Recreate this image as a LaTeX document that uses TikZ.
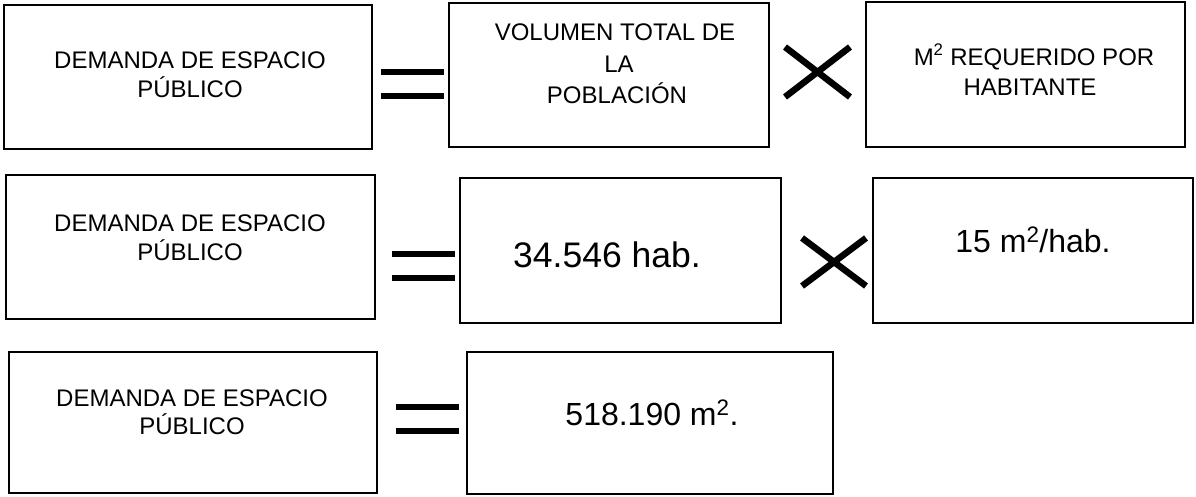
\documentclass[tikz,border=0pt]{standalone}
\usepackage{fontspec}
\setmainfont{Liberation Sans}
\begin{document}
\begin{tikzpicture}[x=1pt,y=-1pt,
  box/.style={draw=black, line width=2pt, rectangle, inner sep=0pt, outer sep=0pt},
  lbl/.style={inner sep=0pt, anchor=base, font=\fontsize{24}{30}\selectfont},
  big/.style={inner sep=0pt, anchor=base, font=\fontsize{32}{38}\selectfont},
  bigger/.style={inner sep=0pt, anchor=base, font=\fontsize{35.5}{42}\selectfont},
  bar/.style={line width=6pt},
  cross/.style={line width=6.5pt}]
\useasboundingbox (0,0) rectangle (1196,496);
% ---- row 1
\node[box, minimum width=368pt, minimum height=144pt] (A1) at (188,77) {};
\node[box, minimum width=320pt, minimum height=144pt] (B1) at (609,75) {};
\node[box, minimum width=319pt, minimum height=145pt] (C1) at (1025.5,74.5) {};
\node[lbl] (A1a) at (190,68) {DEMANDA DE ESPACIO};
\node[lbl] (A1b) at (190,97) {PÚBLICO};
\node[lbl] (B1a) at (615,40) {VOLUMEN TOTAL DE};
\node[lbl] (B1b) at (619,72) {LA};
\node[lbl] (B1c) at (617,103) {POBLACIÓN};
\node[lbl] (C1a) at (1034,65) {M\textsuperscript{2} REQUERIDO POR};
\node[lbl] (C1b) at (1030,95) {HABITANTE};
\draw[bar] (381,72) -- (444,72);
\draw[bar] (381,96) -- (444,96);
\draw[cross] (785,47) -- (850,97);
\draw[cross] (785,97) -- (850,47);
% ---- row 2
\node[box, minimum width=369pt, minimum height=144pt] (A2) at (190.5,247) {};
\node[box, minimum width=321pt, minimum height=145pt] (B2) at (620.5,250.5) {};
\node[box, minimum width=320pt, minimum height=145pt] (C2) at (1033,250.5) {};
\node[lbl] (A2a) at (190,231) {DEMANDA DE ESPACIO};
\node[lbl] (A2b) at (190,260) {PÚBLICO};
\node[bigger, anchor=base west] (B2a) at (513,267) {34.546 hab.};
\node[big] (C2a) at (1033,252) {15 m\textsuperscript{2}/hab.};
\draw[bar] (392,254) -- (455,254);
\draw[bar] (392,278) -- (455,278);
\draw[cross] (802,238) -- (866,286);
\draw[cross] (802,286) -- (866,238);
% ---- row 3
\node[box, minimum width=368pt, minimum height=141pt] (A3) at (193,422.5) {};
\node[box, minimum width=366pt, minimum height=142pt] (B3) at (650,423) {};
\node[lbl] (A3a) at (192,406) {DEMANDA DE ESPACIO};
\node[lbl] (A3b) at (192,434) {PÚBLICO};
\node[big] (B3a) at (652,425) {518.190 m\textsuperscript{2}.};
\draw[bar] (396,407) -- (459,407);
\draw[bar] (396,431) -- (459,431);
\end{tikzpicture}
\end{document}
